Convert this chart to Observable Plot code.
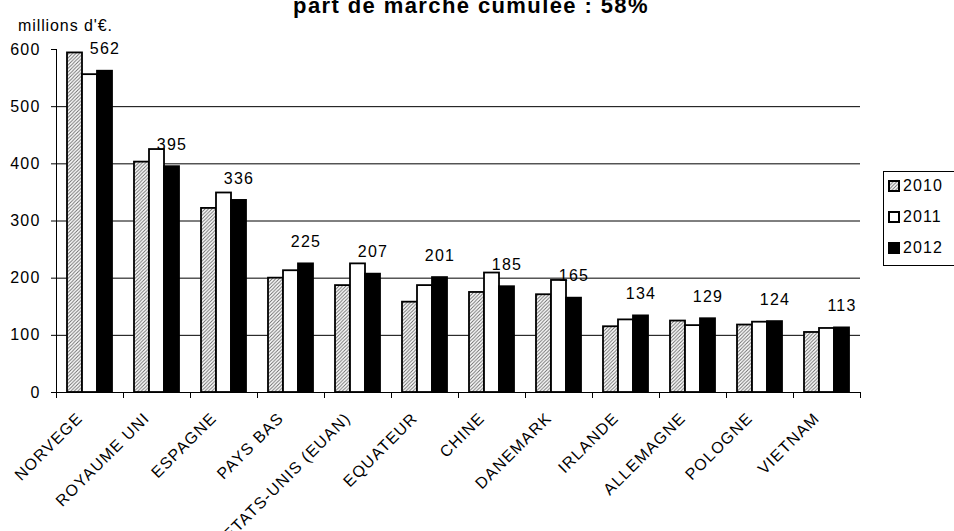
<!DOCTYPE html>
<html><head><meta charset="utf-8">
<script src="https://cdn.jsdelivr.net/npm/d3@7"></script>
<script src="https://cdn.jsdelivr.net/npm/@observablehq/plot@0.6"></script>
<style>
body{margin:0;background:#fff;font-family:"Liberation Sans",Arial,sans-serif;color:#000;}
#wrap{position:relative;width:954px;height:531px;overflow:hidden;}
#chart svg{position:absolute;left:0;top:0;}
#title{position:absolute;left:471px;top:-5px;transform:translateX(-50%);font-weight:bold;font-size:22px;line-height:22px;letter-spacing:1.4px;white-space:nowrap;}
#unit{position:absolute;left:18px;top:18px;font-size:16px;line-height:16px;letter-spacing:0.9px;white-space:nowrap;}
#legend{position:absolute;left:883px;top:171px;width:72px;height:95px;box-sizing:border-box;border:1px solid #000;background:#fff;}
.item{position:absolute;left:4px;height:16px;display:flex;align-items:center;font-size:16px;letter-spacing:1.1px;}
.item svg{margin-right:3px;}
</style></head>
<body>
<svg width="0" height="0" style="position:absolute"><defs>
<pattern id="hatch" patternUnits="userSpaceOnUse" width="3.5" height="3.5">
<rect width="3.5" height="3.5" fill="#fff"/>
<path d="M-1,1 l2,-2 M0,3.5 l3.5,-3.5 M2.5,4.5 l2,-2" stroke="#666" stroke-width="0.9"/>
</pattern></defs></svg>
<div id="wrap">
  <div id="chart"></div>
  <div id="title">part de marché cumulée : 58%</div>
  <div id="unit">millions d'€.</div>
  <div id="legend"></div>
</div>
<script>
const countries = ["NORVEGE","ROYAUME UNI","ESPAGNE","PAYS BAS","ETATS-UNIS (EUAN)","EQUATEUR","CHINE","DANEMARK","IRLANDE","ALLEMAGNE","POLOGNE","VIETNAM"];
const years = ["2010","2011","2012"];
const values2010 = [594,403,322,200,187,158,175,171,115,125,118,105];
const values2011 = [556,425,349,213,225,187,209,196,127,117,123,112];
const values2012 = [562,395,336,225,207,201,185,165,134,129,124,113];
const yTicks = [0,100,200,300,400,500,600];
const gridValues = [100,200,300,400,500];

const series = {"2010": values2010, "2011": values2011, "2012": values2012};
const rows = years.flatMap(y => countries.map((c, i) => ({country: c, year: y, value: series[y][i]})));
const r2010 = rows.filter(d => d.year === "2010");
const r2011 = rows.filter(d => d.year === "2011");
const r2012 = rows.filter(d => d.year === "2012");

const chart = Plot.plot({
  width: 954, height: 531,
  marginLeft: 56, marginRight: 94, marginTop: 49, marginBottom: 139,
  style: {fontFamily: "'Liberation Sans', Arial, sans-serif", fontSize: "16px", letterSpacing: "1.2px", color: "#000", background: "transparent", overflow: "visible"},
  fx: {domain: countries, paddingInner: 0, paddingOuter: 0, label: null},
  x: {domain: years, paddingInner: 0, paddingOuter: 0.733, axis: null},
  y: {domain: [0, 600]},
  marks: [
    Plot.ruleY(gridValues, {stroke: "#000", strokeWidth: 1}),
    Plot.barY(r2010, {fx: "country", x: "year", y: "value", fill: "url(#hatch)", stroke: "#000", strokeWidth: 1.8}),
    Plot.barY(r2011, {fx: "country", x: "year", y: "value", fill: "#fff", stroke: "#000", strokeWidth: 1.8}),
    Plot.barY(r2012, {fx: "country", x: "year", y: "value", fill: "#000", stroke: "#000", strokeWidth: 1.8}),
    Plot.ruleY([0], {stroke: "#000", strokeWidth: 1}),
    Plot.frame({anchor: "left", facetAnchor: "left", stroke: "#000"}),
    Plot.frame({anchor: "left", insetTop: 343, insetBottom: -5, stroke: "#000"}),
    Plot.frame({anchor: "right", insetTop: 343, insetBottom: -5, facetAnchor: "right", stroke: "#000"}),
    Plot.axisY({ticks: yTicks, tickSize: 5, tickPadding: 11, fontSize: 16, label: null, stroke: "#000"}),
    Plot.axisFx({anchor: "bottom", tickSize: 0, tickRotate: -45, tickPadding: 23, dx: -10, fontSize: 16, label: null}),
    Plot.text(r2012, {fx: "country", x: "year", y: "value", text: d => String(d.value), dy: -22, fontSize: 16})
  ]
});
document.getElementById("chart").appendChild(chart);

const legend = document.getElementById("legend");
const swatches = {
  "2010": '<rect x="1" y="1" width="10" height="10" fill="url(#hatch)" stroke="#000" stroke-width="2"/>',
  "2011": '<rect x="1" y="1" width="10" height="10" fill="#fff" stroke="#000" stroke-width="2"/>',
  "2012": '<rect x="0" y="0" width="12" height="12" fill="#000"/>'
};
years.forEach((y, i) => {
  const el = document.createElement("div");
  el.className = "item";
  el.style.top = (186 + 31 * i - 8 - 172) + "px";
  el.innerHTML = '<svg width="12" height="12">' + swatches[y] + '</svg><span>' + y + '</span>';
  legend.appendChild(el);
});
</script>
</body></html>
